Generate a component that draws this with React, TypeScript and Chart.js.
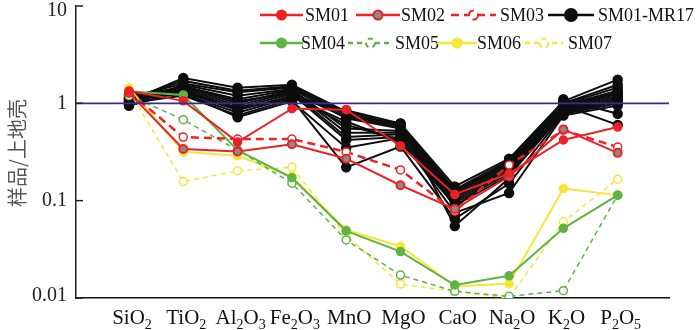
import React, { useEffect, useRef } from "react";
import { Chart, registerables } from "chart.js";
Chart.register(...registerables);

// ---------- data ----------
const categories = ["SiO2", "TiO2", "Al2O3", "Fe2O3", "MnO", "MgO", "CaO", "Na2O", "K2O", "P2O5"];
const yTicks = [0.01, 0.1, 1, 10];
const yTitle = "样品/上地壳";
const referenceLevel = 1;

const SM01 = [1.34, 1.06, 0.4, 0.88, 0.86, 0.365, 0.116, 0.19, 0.42, 0.57];
const SM02 = [1.28, 0.34, 0.32, 0.38, 0.27, 0.144, 0.082, 0.177, 0.54, 0.31];
const SM03 = [1.3, 0.45, 0.43, 0.43, 0.317, 0.207, 0.078, 0.233, 0.53, 0.355];
const SM04 = [1.33, 1.22, 0.33, 0.172, 0.049, 0.03, 0.0136, 0.0169, 0.052, 0.114];
const SM05 = [1.2, 0.68, 0.33, 0.151, 0.0395, 0.0172, 0.0117, 0.0104, 0.0119, 0.114];
const SM06 = [1.44, 0.317, 0.29, 0.177, 0.05, 0.034, 0.0132, 0.014, 0.133, 0.114];
const SM07 = [1.35, 0.157, 0.203, 0.22, 0.044, 0.0139, 0.0117, 0.01, 0.0607, 0.166];

// SM01-MR17 group (black)
const MR01 = [1.05, 1.82, 1.45, 1.55, 0.82, 0.62, 0.14, 0.27, 1.05, 1.75];
const MR02 = [1.1, 1.7, 1.35, 1.5, 0.78, 0.6, 0.13, 0.26, 1.0, 1.55];
const MR03 = [1.15, 1.6, 1.3, 1.45, 0.75, 0.58, 0.125, 0.25, 0.98, 1.45];
const MR04 = [1.0, 1.55, 1.2, 1.4, 0.7, 0.55, 0.12, 0.24, 0.95, 1.35];
const MR05 = [0.98, 1.5, 1.1, 1.38, 0.55, 0.52, 0.115, 0.23, 0.92, 1.3];
const MR06 = [1.2, 1.45, 1.0, 1.35, 0.5, 0.5, 0.11, 0.22, 0.9, 1.25];
const MR07 = [1.05, 1.4, 0.95, 1.3, 0.45, 0.48, 0.105, 0.21, 0.88, 1.2];
const MR08 = [0.95, 1.35, 0.9, 1.25, 0.42, 0.45, 0.1, 0.2, 0.85, 1.15];
const MR09 = [1.25, 1.3, 0.85, 1.2, 0.6, 0.42, 0.095, 0.19, 0.82, 1.1];
const MR10 = [1.1, 1.25, 0.8, 1.15, 0.65, 0.4, 0.09, 0.18, 0.8, 1.05];
const MR11 = [1.0, 1.2, 0.75, 1.1, 0.22, 0.36, 0.065, 0.15, 0.78, 1.0];
const MR12 = [1.15, 1.28, 0.72, 1.05, 0.35, 0.44, 0.075, 0.12, 0.75, 0.95];
const MR13 = [0.95, 1.35, 0.88, 1.12, 0.85, 0.62, 0.055, 0.17, 1.1, 0.78];
const MR14 = [1.05, 1.5, 1.05, 1.28, 0.72, 0.56, 0.085, 0.23, 0.95, 0.6];
const blackGroup = [MR01, MR02, MR03, MR04, MR05, MR06, MR07, MR08, MR09, MR10, MR11, MR12, MR13, MR14];

// ---------- styles ----------
const RED = "#ec2227";
const GREEN = "#5db443";
const YELLOW = "#f6e63a";
const BLACK = "#0d0d0d";
const PURPLE = "#3c2a90";
const SERIF = "'Liberation Serif', 'Times New Roman', serif";

const toPts = (arr: number[]) => arr.map((v, i) => ({ x: i, y: v }));

type Item = { label: string; lineX: number; lineLen: number; textX: number; y: number; r: number };
const legendItems: Item[] = [
  { label: "SM01", lineX: 260, lineLen: 43, textX: 305, y: 15, r: 4.5 },
  { label: "SM02", lineX: 356, lineLen: 44, textX: 401, y: 15, r: 4.5 },
  { label: "SM03", lineX: 451, lineLen: 45, textX: 500, y: 15, r: 4.5 },
  { label: "SM01-MR17", lineX: 548, lineLen: 46, textX: 598, y: 15, r: 6 },
  { label: "SM04", lineX: 260, lineLen: 43, textX: 301, y: 43, r: 4.5 },
  { label: "SM05", lineX: 348, lineLen: 45, textX: 395, y: 43, r: 4.5 },
  { label: "SM06", lineX: 437, lineLen: 40, textX: 477, y: 43, r: 4.5 },
  { label: "SM07", lineX: 525, lineLen: 38, textX: 568, y: 43, r: 4.5 },
];

function drawChem(ctx: CanvasRenderingContext2D, text: string, cx: number, y: number) {
  const big = `21px ${SERIF}`;
  const small = `14px ${SERIF}`;
  const parts: { t: string; sub: boolean }[] = [];
  for (const ch of text) {
    const sub = /[0-9]/.test(ch);
    if (parts.length && parts[parts.length - 1].sub === sub) parts[parts.length - 1].t += ch;
    else parts.push({ t: ch, sub });
  }
  let w = 0;
  for (const p of parts) {
    ctx.font = p.sub ? small : big;
    w += ctx.measureText(p.t).width;
  }
  let x = cx - w / 2;
  ctx.textAlign = "left";
  ctx.textBaseline = "alphabetic";
  for (const p of parts) {
    ctx.font = p.sub ? small : big;
    ctx.fillText(p.t, x, p.sub ? y + 5 : y);
    x += ctx.measureText(p.t).width;
  }
}

const decorPlugin = {
  id: "decor",
  afterDraw(chart: any) {
    const ctx: CanvasRenderingContext2D = chart.ctx;
    const xs = chart.scales.x;
    const ys = chart.scales.y;
    const area = chart.chartArea;
    ctx.save();
    // inward y ticks
    ctx.strokeStyle = "#222";
    ctx.lineWidth = 1.5;
    for (const v of yTicks) {
      const py = ys.getPixelForValue(v);
      ctx.beginPath();
      ctx.moveTo(area.left, py);
      ctx.lineTo(area.left + 7, py);
      ctx.stroke();
    }
    // y tick labels
    ctx.fillStyle = "#222";
    ctx.font = `20px ${SERIF}`;
    ctx.textAlign = "right";
    ctx.textBaseline = "middle";
    for (const v of yTicks) {
      const py = Math.max(ys.getPixelForValue(v), 11);
      ctx.fillText(String(v), area.left - 9, Math.min(py, area.bottom - 2));
    }
    // x labels
    ctx.fillStyle = "#111";
    categories.forEach((c, i) => {
      drawChem(ctx, c, xs.getPixelForValue(i) + 3, area.bottom + 26);
    });
    // y title
    ctx.save();
    ctx.translate(17, 153);
    ctx.rotate(-Math.PI / 2);
    ctx.font = `20px 'Noto Sans CJK SC', sans-serif`;
    ctx.fillStyle = "#555";
    ctx.textAlign = "center";
    ctx.textBaseline = "middle";
    ctx.fillText(yTitle, 0, 0);
    ctx.restore();
    // legend
    for (const it of legendItems) {
      const ds = chart.data.datasets.find((d: any) => d.label === it.label);
      if (!ds) continue;
      ctx.save();
      ctx.strokeStyle = ds.borderColor;
      ctx.lineWidth = Math.max(ds.borderWidth, 2.5);
      ctx.setLineDash(ds.borderDash || []);
      ctx.beginPath();
      ctx.moveTo(it.lineX, it.y);
      ctx.lineTo(it.lineX + it.lineLen, it.y);
      ctx.stroke();
      ctx.beginPath();
      ctx.arc(it.lineX + it.lineLen / 2, it.y, it.r, 0, Math.PI * 2);
      ctx.fillStyle = ds.pointBackgroundColor;
      ctx.fill();
      ctx.lineWidth = 2;
      ctx.strokeStyle = ds.pointBorderColor;
      ctx.stroke();
      ctx.restore();
      ctx.fillStyle = "#111";
      ctx.font = `18px ${SERIF}`;
      ctx.textAlign = "left";
      ctx.textBaseline = "middle";
      ctx.fillText(it.label, it.textX, it.y + 1);
    }
    ctx.restore();
  },
};

function series(label: string, data: number[], color: string, fill: string, opts: any = {}) {
  return {
    label,
    data: toPts(data),
    borderColor: color,
    backgroundColor: color,
    borderWidth: 2,
    pointRadius: 4,
    pointBackgroundColor: fill,
    pointBorderColor: color,
    pointBorderWidth: 1.5,
    ...opts,
  };
}

export default function App() {
  const ref = useRef<HTMLCanvasElement>(null);
  useEffect(() => {
    if (!ref.current) return;
    const datasets: any[] = [
      {
        label: "ref",
        data: [
          { x: -0.976, y: referenceLevel },
          { x: 9.945, y: referenceLevel },
        ],
        borderColor: PURPLE,
        borderWidth: 1.6,
        pointRadius: 0,
      },
      series("SM01", SM01, RED, RED),
      series("SM02", SM02, RED, "#8a8a8a", { pointBorderWidth: 2 }),
      series("SM03", SM03, RED, "#ffffff", { borderDash: [8, 5], borderWidth: 2.5 }),
      series("SM04", SM04, GREEN, GREEN),
      series("SM05", SM05, GREEN, "#ffffff", { borderDash: [5, 4], borderWidth: 1.5 }),
      series("SM06", SM06, YELLOW, YELLOW),
      series("SM07", SM07, YELLOW, "#ffffff", { borderDash: [5, 4], borderWidth: 1.5 }),
      ...blackGroup.map((d) => series("SM01-MR17", d, BLACK, BLACK, { pointRadius: 4.5 })),
    ];
    const chart = new Chart(ref.current, {
      type: "line",
      data: { datasets },
      options: {
        animation: false,
        responsive: false,
        devicePixelRatio: 1,
        layout: { padding: { left: 76, right: 31, top: 3, bottom: 32 } },
        plugins: { legend: { display: false }, tooltip: { enabled: false } },
        scales: {
          x: {
            type: "linear",
            min: -0.976,
            max: 9.945,
            grid: { display: false, drawTicks: false, tickLength: 0 },
            ticks: { display: false },
            border: { display: true, color: "#111", width: 1.6 },
          },
          y: {
            type: "logarithmic",
            min: 0.01,
            max: 10,
            grid: { display: false, drawTicks: false, tickLength: 0 },
            ticks: { display: false },
            border: { display: true, color: "#222", width: 1.5 },
          },
        },
      },
      plugins: [decorPlugin],
    });
    return () => chart.destroy();
  }, []);
  return (
    <div style={{ position: "absolute", left: 0, top: 0, width: 700, height: 330, background: "#fff" }}>
      <canvas ref={ref} width={700} height={330} />
    </div>
  );
}
